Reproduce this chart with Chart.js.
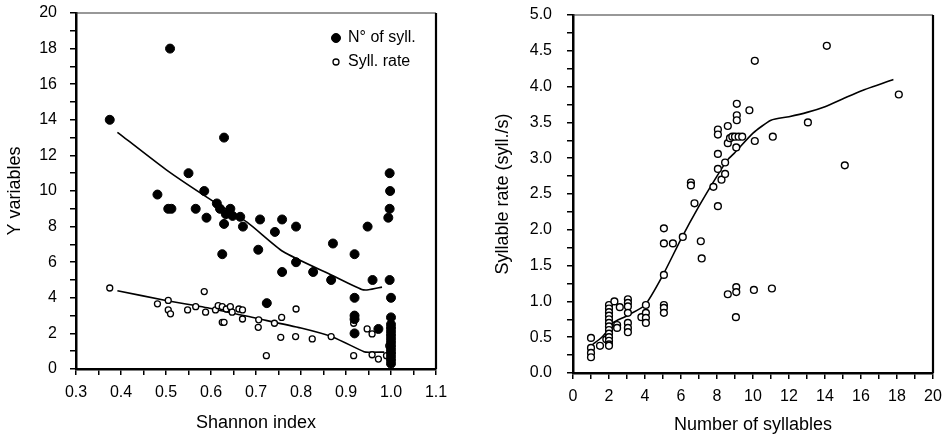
<!DOCTYPE html>
<html><head><meta charset="utf-8">
<script src="https://cdn.jsdelivr.net/npm/chart.js@4.4.1/dist/chart.umd.min.js"></script>
<style>
html,body{margin:0;padding:0;background:#fff;width:942px;height:438px;overflow:hidden}
canvas{position:absolute;top:0}
#c1{left:0}#c2{left:470px}
</style></head><body>
<canvas id="c1" width="470" height="438"></canvas>
<canvas id="c2" width="472" height="438"></canvas>
<script>
// ---------- Left panel data ----------
const shannonA = [0.375,0.509,0.629,0.550,0.481,0.505,0.512,0.566,0.585,0.590,0.613,0.620,0.629,0.633,0.643,0.648,0.665,0.671,0.625,0.709,0.705,0.742,0.758,0.758,0.789,0.789,0.827,0.871,0.867,0.919,0.919,0.919,0.919,0.919,0.948,0.959,0.972,0.724,0.997,0.998,0.997,0.994,0.997,1.0,1.0,1.0,1.0,1.0,1.0,1.0,1.0,1.0,1.0,1.0,1.0,1.0,1.0];
const nSyll    = [14,18,13,11,9.8,9,9,9,10,8.5,9.3,9,8.15,8.7,9,8.6,8.55,8.0,6.45,8.4,6.7,7.7,8.4,5.45,8.0,6.0,5.45,7.05,5.0,6.45,4.0,3.0,2.8,2.0,8.0,5.0,2.25,3.7,11,10,9,8.5,5.0,4.0,2.9,2.5,2.3,2.1,1.9,1.7,1.5,1.3,1.1,0.9,0.7,0.5,0.3];
const shannonB = [0.375,0.481,0.505,0.505,0.51,0.548,0.566,0.585,0.588,0.61,0.616,0.625,0.634,0.643,0.647,0.625,0.629,0.662,0.67,0.67,0.706,0.705,0.741,0.757,0.755,0.789,0.788,0.825,0.867,0.723,0.917,0.917,0.947,0.958,0.958,0.972,0.99,0.995,0.998,1.0,1.0,1.0];
const syllRate = [4.55,3.66,3.85,3.32,3.1,3.32,3.5,4.35,3.19,3.32,3.56,3.5,3.37,3.5,3.19,2.62,2.62,3.37,3.32,2.81,2.76,2.34,2.57,2.9,1.78,3.37,1.82,1.69,1.82,0.75,2.57,0.75,2.25,1.97,0.8,0.56,0.75,1.3,1.0,1.6,2.0,0.5];
const fitAx = [0.392,0.5,0.6,0.68,0.76,0.87,0.935,0.95,0.98];
const fitAy = [13.3,11.2,9.5,8.25,6.6,5.25,4.47,4.45,4.6];
const fitBx = [0.392,0.5,0.6,0.7,0.8,0.87,0.94,0.95,0.985];
const fitBy = [4.4,3.85,3.4,2.85,2.3,1.8,0.97,0.94,0.95];
const leftLabels = ['N° of syll.','Syll. rate'];

// ---------- Right panel data ----------
const nSyllR = [1,1,1,1,1.5,1.85,2,2,2,2,2,2,2,2,2,2,2,2,2,2.3,2.6,2.45,2.45,3.05,3.05,3.05,3.05,3.05,3.05,3.05,3.8,4.05,4.05,4.05,4.05,5.05,5.05,5.05,5.05,5.05,5.05,5.55,6.1,6.55,6.55,6.75,7.1,7.15,7.8,8.05,8.05,8.05,8.05,8.05,8.25,8.45,8.45,8.6,8.6,8.72,8.85,9.0,9.2,9.4,9.1,9.1,9.1,9.07,9.8,10.1,10.1,11.1,13.05,14.1,15.1,18.1,8.6,9.07,9.07,9.05,10.05,11.05];
const rateR  = [0.49,0.35,0.28,0.22,0.38,0.47,0.95,0.9,0.85,0.8,0.75,0.7,0.65,0.6,0.55,0.5,0.45,0.4,0.38,1.0,0.92,0.67,0.63,1.03,0.98,0.93,0.84,0.7,0.63,0.57,0.78,0.95,0.84,0.77,0.7,2.02,1.81,1.37,0.95,0.91,0.84,1.81,1.9,2.66,2.62,2.37,1.84,1.6,2.6,3.4,3.33,3.06,2.85,2.33,2.7,2.78,2.94,3.45,3.21,3.28,3.3,3.3,3.3,3.3,3.76,3.6,3.53,3.15,3.67,4.36,3.24,3.3,3.5,4.57,2.9,3.89,1.1,1.2,1.13,0.78,1.16,1.18];
const fitRx = [1.1,1.6,2.0,2.2,3.0,4.0,5.0,6.0,7.0,8.0,8.6,9.0,10.0,11.0,12.0,13.0,14.0,15.0,16.0,17.8];
const fitRy = [0.40,0.50,0.62,0.70,0.80,0.95,1.37,1.87,2.33,2.75,2.98,3.08,3.35,3.53,3.58,3.64,3.72,3.83,3.94,4.1];

const zip = (xs, ys) => xs.map((x, i) => ({x, y: ys[i]}));

Chart.defaults.font.family = "'Liberation Sans', Arial, sans-serif";
Chart.defaults.color = '#000';

const frame = {
  id: 'frame',
  afterDraw(c) {
    const a = c.chartArea, ctx = c.ctx;
    ctx.save();
    ctx.strokeStyle = '#333'; ctx.lineWidth = 1.2;
    ctx.beginPath(); ctx.moveTo(a.left, a.top); ctx.lineTo(a.right, a.top); ctx.stroke();
    ctx.strokeStyle = '#000'; ctx.lineWidth = 2.2;
    ctx.beginPath(); ctx.moveTo(a.right, a.top); ctx.lineTo(a.right, a.bottom); ctx.stroke();
    ctx.restore();
  }
};

const innerLegend = {
  id: 'innerLegend',
  afterDraw(c, args, opts) {
    if (!opts || !opts.show) return;
    const ctx = c.ctx, a = c.chartArea;
    const x0 = a.right - 100, y0 = a.top + 25;
    ctx.save();
    ctx.font = "16px 'Liberation Sans', Arial, sans-serif";
    ctx.textBaseline = 'middle';
    ctx.fillStyle = '#000';
    [0, 1].forEach((i, k) => {
      const ds = c.data.datasets[i];
      const y = y0 + k * 24;
      ctx.beginPath();
      ctx.arc(x0, y, k === 0 ? 4.5 : 3, 0, Math.PI * 2);
      ctx.fillStyle = ds.backgroundColor; ctx.fill();
      ctx.lineWidth = ds.borderWidth; ctx.strokeStyle = ds.borderColor; ctx.stroke();
      ctx.fillStyle = '#000';
      ctx.fillText(ds.label, x0 + 12, y);
    });
    ctx.restore();
  }
};

const axisCommon = (extra) => Object.assign({
  type: 'linear',
  grid: { drawOnChartArea: false, drawTicks: true, tickLength: 6, color: '#000', lineWidth: 1.5 },
  border: { color: '#000', width: 2.5 },
}, extra);

const fixX = h => s => { s.height = h; s.paddingLeft = 0; s.paddingRight = 0; };
const fixY = w => s => { s.width = w; s.paddingTop = 0; s.paddingBottom = 0; };

new Chart(document.getElementById('c1'), {
  type: 'scatter',
  data: {
    datasets: [
      { label: leftLabels[0], data: zip(shannonA, nSyll), backgroundColor: '#000', borderColor: '#000', borderWidth: 1, pointRadius: 4.5 },
      { label: leftLabels[1], data: zip(shannonB, syllRate), backgroundColor: '#fff', borderColor: '#000', borderWidth: 1.3, pointRadius: 3 },
      { type: 'line', label: 'fitA', data: zip(fitAx, fitAy), borderColor: '#000', borderWidth: 1.6, pointRadius: 0, fill: false, tension: 0.2 },
      { type: 'line', label: 'fitB', data: zip(fitBx, fitBy), borderColor: '#000', borderWidth: 1.6, pointRadius: 0, fill: false, tension: 0.2 }
    ]
  },
  options: {
    responsive: false, animation: false,
    layout: { padding: { left: 0, top: 13, right: 34, bottom: 0 } },
    plugins: { legend: { display: false }, tooltip: { enabled: false }, innerLegend: { show: true } },
    scales: {
      x: axisCommon({
        min: 0.3, max: 1.1,
        ticks: { stepSize: 0.05, autoSkip: false, maxRotation: 0, padding: 8, font: { size: 16 },
          callback: v => { const k = Math.round(v * 100); return k % 10 === 0 ? (k / 100).toFixed(1) : ''; } },
        title: { display: true, text: 'Shannon index', font: { size: 18 }, padding: { top: 4, bottom: 4 } },
        afterFit: fixX(69)
      }),
      y: axisCommon({
        min: 0, max: 20,
        ticks: { stepSize: 1, autoSkip: false, padding: 13, font: { size: 16 },
          callback: v => (Math.round(v) % 2 === 0 ? String(Math.round(v)) : '') },
        title: { display: true, text: 'Y variables', font: { size: 18 }, padding: { top: 4, bottom: 4 } },
        afterFit: fixY(76)
      })
    }
  },
  plugins: [frame, innerLegend]
});

new Chart(document.getElementById('c2'), {
  type: 'scatter',
  data: {
    datasets: [
      { label: 'Syllable rate', data: zip(nSyllR, rateR), backgroundColor: '#fff', borderColor: '#000', borderWidth: 1.4, pointRadius: 3.4 },
      { type: 'line', label: 'fitR', data: zip(fitRx, fitRy), borderColor: '#000', borderWidth: 1.6, pointRadius: 0, fill: false, tension: 0.2 }
    ]
  },
  options: {
    responsive: false, animation: false,
    layout: { padding: { left: 0, top: 15, right: 9, bottom: 0 } },
    plugins: { legend: { display: false }, tooltip: { enabled: false } },
    scales: {
      x: axisCommon({
        min: 0, max: 20,
        ticks: { stepSize: 1, autoSkip: false, maxRotation: 0, padding: 8, font: { size: 16 },
          callback: v => (Math.round(v) % 2 === 0 ? String(Math.round(v)) : '') },
        title: { display: true, text: 'Number of syllables', font: { size: 18 }, padding: { top: 4, bottom: 2 } },
        afterFit: fixX(65)
      }),
      y: axisCommon({
        min: 0, max: 5,
        ticks: { stepSize: 0.25, autoSkip: false, padding: 15, font: { size: 16 },
          callback: v => { const k = Math.round(v * 100); return k % 50 === 0 ? (k / 100).toFixed(1) : ''; } },
        title: { display: true, text: 'Syllable rate (syll./s)', font: { size: 18 }, padding: { top: 22, bottom: 4 } },
        afterFit: fixY(103)
      })
    }
  },
  plugins: [frame]
});
</script>
</body></html>
